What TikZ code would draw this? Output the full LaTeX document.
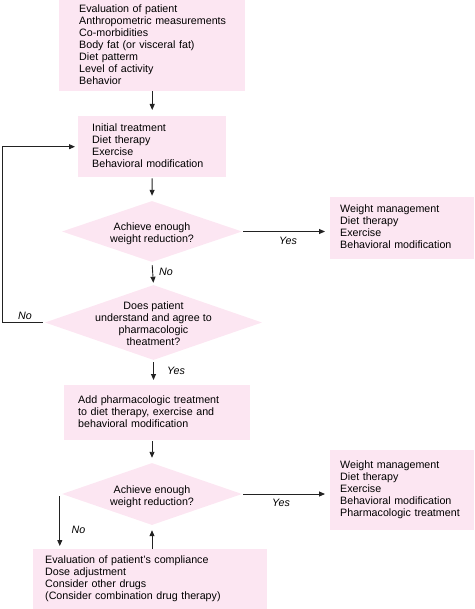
\documentclass[tikz,border=0pt]{standalone}
\usepackage{fontspec}
\setmainfont{Liberation Sans}
\usetikzlibrary{shapes.geometric,arrows.meta}
\definecolor{boxpink}{HTML}{FCE6F2}
\definecolor{linec}{HTML}{222222}
\newcommand{\lns}[1]{\begin{tabular}{@{}l@{}}#1\end{tabular}}
\newcommand{\dlns}[1]{\makebox[0pt]{\smash{\raisebox{-5.7pt}{\begin{tabular}{@{}c@{}}#1\end{tabular}}}}}
\tikzset{
  box/.style={fill=boxpink, draw=none, anchor=north west, inner ysep=0pt, align=left,
    font=\fontsize{10.7}{12}\selectfont},
  dia/.style={diamond, fill=boxpink, draw=none, inner sep=0pt,
    font=\fontsize{10.7}{12}\selectfont},
  arr/.style={draw=linec, line width=0.9pt, -{Triangle[length=6pt,width=5pt]}},
  lbl/.style={font=\fontsize{10.7}{12}\selectfont\itshape, inner sep=0pt}
}
\begin{document}
\begin{tikzpicture}[x=1pt,y=-1pt]
\useasboundingbox (0,0) rectangle (474,609);
% boxes
\node[box, minimum width=186pt, minimum height=91pt, inner xsep=20pt, text width=146pt] (b1) at (59,0)
  {\lns{Evaluation of patient\\Anthropometric measurements\\Co-morbidities\\Body fat (or visceral fat)\\Diet patterm\\Level of activity\\Behavior}};
\node[box, minimum width=148pt, minimum height=61pt, inner xsep=14pt, text width=120pt] (b2) at (78,116)
  {\lns{Initial treatment\\Diet therapy\\Exercise\\Behavioral modification}};
\node[box, minimum width=144pt, minimum height=62pt, inner xsep=10pt, text width=124pt] (b3) at (330,197)
  {\lns{Weight management\\Diet therapy\\Exercise\\Behavioral modification}};
\node[box, minimum width=186pt, minimum height=55pt, inner xsep=14pt, text width=158pt] (b4) at (64,385)
  {\lns{Add pharmacologic treatment\\to diet therapy, exercise and\\behavioral modification}};
\node[box, minimum width=144pt, minimum height=80pt, inner xsep=10pt, text width=124pt] (b5) at (330,450)
  {\lns{Weight management\\Diet therapy\\Exercise\\Behavioral modification\\Pharmacologic treatment}};
\node[box, minimum width=234pt, minimum height=60pt, inner xsep=12pt, text width=210pt] (b6) at (33,549)
  {\lns{Evaluation of patient's compliance\\Dose adjustment\\Consider other drugs\\(Consider combination drug therapy)}};
% diamonds
\node[dia, minimum width=180pt, minimum height=61pt] (d1) at (152,231.5)
  {\dlns{Achieve enough\\weight reduction?}};
\node[dia, minimum width=217pt, minimum height=75pt] (d2) at (153.5,322.5)
  {\dlns{Does patient\\understand and agree to\\pharmacologic\\theatment?}};
\node[dia, minimum width=180pt, minimum height=62pt] (d3) at (152,494)
  {\dlns{Achieve enough\\weight reduction?}};
% connectors
\draw[arr, shorten >=6pt] (b1.south) -- (b2.north);
\draw[arr, shorten <=1pt, shorten >=5pt] (b2.south) -- (d1.north);
\draw[arr, shorten <=1pt, shorten >=5pt] (d1.east) -- (b3.west |- d1.east);
\draw[arr, shorten <=3pt, shorten >=2pt] (d1.south) -- (d2.north);
\coordinate (lp) at (2,0);
\draw[arr, shorten <=2pt, shorten >=3pt] (d2.west) -- (d2.west -| lp) |- (b2.west);
\draw[arr, shorten <=2pt, shorten >=5pt] (d2.south) -- (b4.north -| d2.south);
\draw[arr, shorten <=1pt, shorten >=5pt] (b4.south -| d3.north) -- (d3.north);
\draw[arr, shorten <=1pt, shorten >=5pt] (d3.east) -- (b5.west |- d3.east);
\coordinate (n3) at ([xshift=-2pt,yshift=-2pt]d3.west);
\draw[arr, shorten >=3pt] (n3) -- (n3 |- b6.north);
\draw[arr, shorten >=5pt] (d3.south |- b6.north) -- (d3.south);
% labels
\node[lbl] (y1) at (288,241) {Yes};
\node[lbl] (n1) at (166,272) {No};
\node[lbl] (nl) at (25,316) {No};
\node[lbl] (y2) at (176,371) {Yes};
\node[lbl] (y3) at (281,503) {Yes};
\node[lbl] (n4) at (78.5,530) {No};
\end{tikzpicture}
\end{document}
